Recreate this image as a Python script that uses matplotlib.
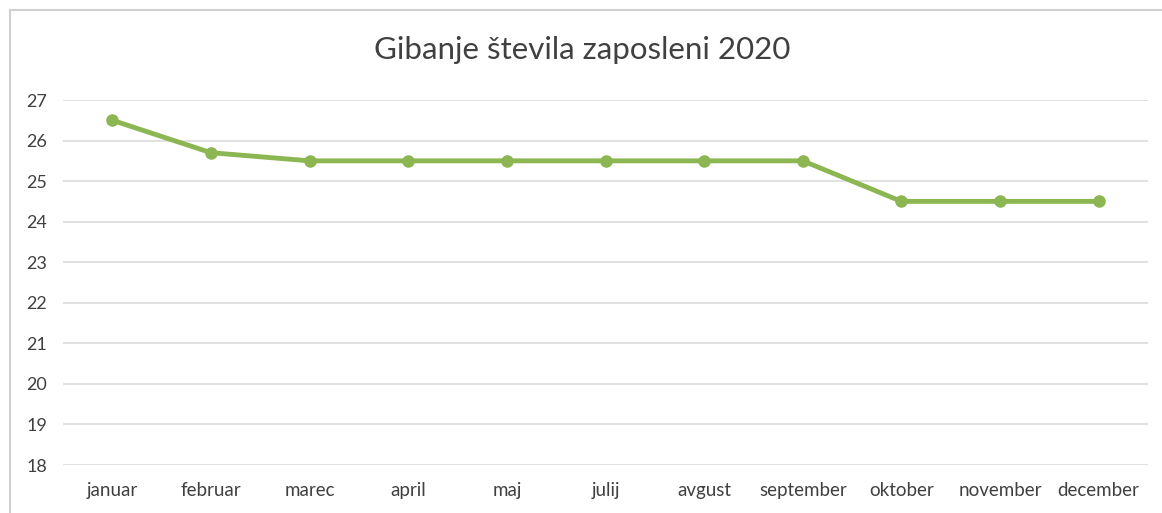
import matplotlib
matplotlib.use("Agg")
import matplotlib.pyplot as plt
from matplotlib.patches import Rectangle

months = ["januar", "februar", "marec", "april", "maj", "julij", "avgust",
          "september", "oktober", "november", "december"]
values = [26.5, 25.7, 25.5, 25.5, 25.5, 25.5, 25.5, 25.5, 24.5, 24.5, 24.5]
yticks = [18, 19, 20, 21, 22, 23, 24, 25, 26, 27]
title = "Gibanje števila zaposleni 2020"

plt.rcParams['font.family'] = ['Lato', 'DejaVu Sans']

W, H = 1162, 513
fig = plt.figure(figsize=(W / 100, H / 100), dpi=100)
ax = fig.add_axes([63 / W, 1 - 465 / H, (1148 - 63) / W, (465 - 100) / H])

x = list(range(len(months)))
ax.plot(x, values, color='#8cb651', linewidth=3.5, marker='o', markersize=8,
        markerfacecolor='#8cb651', markeredgecolor='#8cb651', zorder=3,
        solid_capstyle='round')

ax.set_xlim(-0.5, len(months) - 0.5)
ax.set_ylim(18, 27)
ax.set_yticks(yticks)
ax.set_xticks(x)
ax.set_xticklabels(months, fontsize=13.5, color='#404040')
ax.set_yticklabels([str(v) for v in yticks], fontsize=13, color='#404040')
ax.tick_params(length=0)
ax.tick_params(axis='x', pad=12)
ax.tick_params(axis='y', pad=26.5)
for lbl in ax.get_yticklabels():
    lbl.set_horizontalalignment('left')
ax.grid(axis='y', color='#dcdcdc', linewidth=1.2)
ax.set_axisbelow(True)
for s in ax.spines.values():
    s.set_visible(False)

fig.text(582 / W, 1 - 50 / H, title, fontsize=22.5, ha='center', va='center',
         color='#404040')

fig.patches.append(Rectangle((10 / W, -0.02), 1.1, 1 - 10 / H + 0.02,
                             transform=fig.transFigure, fill=False,
                             edgecolor='#d0d0d0', linewidth=1.5))

fig.savefig("out.png", dpi=100)
